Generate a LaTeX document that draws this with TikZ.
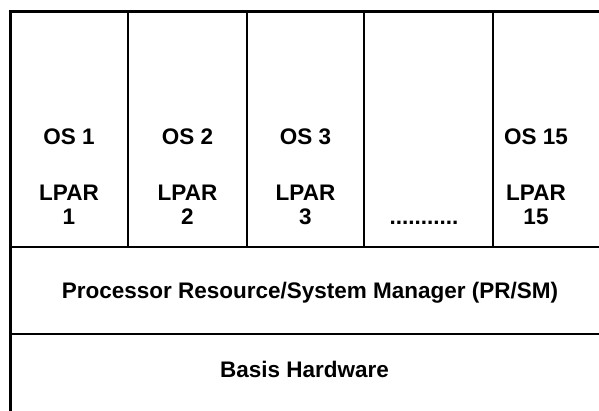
\documentclass[tikz,border=0pt]{standalone}
\usepackage{fontspec}
\setmainfont{Liberation Sans}
\begin{document}
\begin{tikzpicture}[x=1pt,y=1pt,font=\fontsize{22.5}{24}\selectfont\bfseries,
  lbl/.style={anchor=base,inner sep=0pt},
  rule/.style={line width=2.7pt}]
\useasboundingbox (0,0) rectangle (599,411);
\draw[line width=3pt] (620,399) -- (10,399) -- (10,-10);
\foreach \xx in {128,247,364,493}
  \draw[rule] (\xx,399) -- (\xx,164);
\draw[rule] (10,164) -- (620,164);
\draw[rule] (10,77) -- (620,77);
% partitions
\foreach \xx/\nn in {69/1,187.5/2,305.5/3,536/15} {
  \node[lbl] (os\nn) at (\xx,266) {OS \nn};
  \node[lbl] (lpar\nn) at (\xx,210) {LPAR};
  \node[lbl] (num\nn) at (\xx,186) {\nn};
}
\node[lbl] (dots) at (424,186) {...........};
\node[lbl] (prsm) at (310,112) {Processor Resource/System Manager (PR/SM)};
\node[lbl] (hw) at (304.5,33) {Basis Hardware};
\end{tikzpicture}
\end{document}
